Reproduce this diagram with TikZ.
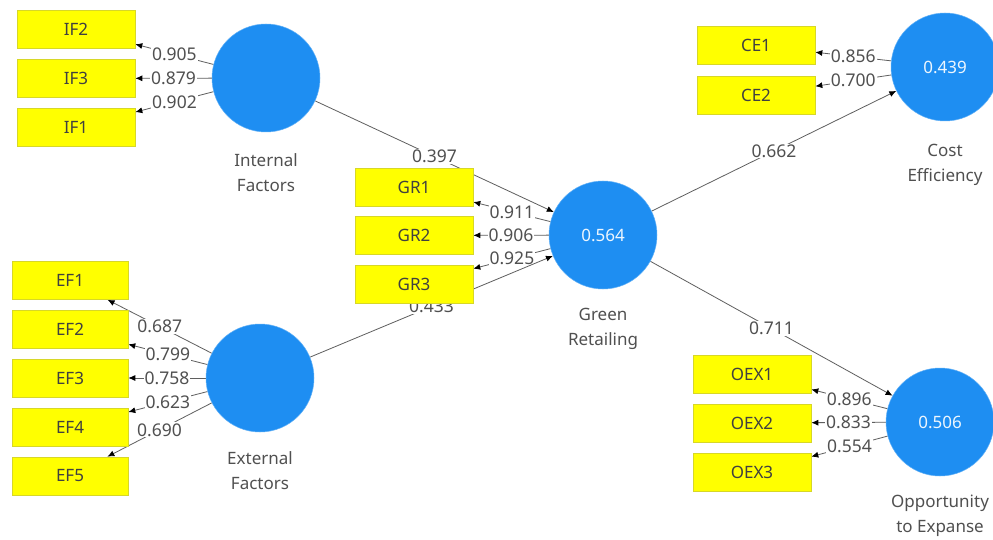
\documentclass[tikz,border=0pt]{standalone}
\usepackage{fontspec}
\setmainfont{Noto Sans}
\usetikzlibrary{arrows.meta}
\pgfdeclarelayer{background}
\pgfsetlayers{background,main}
\definecolor{lvblue}{RGB}{30,142,242}
\definecolor{ind}{RGB}{255,255,0}
\definecolor{indline}{RGB}{215,215,40}
\definecolor{edgegray}{RGB}{95,95,95}
\definecolor{txtgray}{RGB}{80,80,80}
\tikzset{
  latent/.style={circle, fill=lvblue, draw=lvblue!70!white, line width=0.5pt, minimum size=108pt, inner sep=0pt,
    text=white!92!lvblue, font=\fontsize{17}{20}\selectfont},
  indbox/.style={rectangle, fill=ind, draw=indline, line width=0.6pt, minimum width=118pt, minimum height=38pt,
    inner sep=0pt, text=black!75, font=\fontsize{17}{20}\selectfont},
  lvname/.style={align=center, text=txtgray, font=\fontsize{17}{25}\selectfont},
  conn/.style={draw=edgegray, line width=0.8pt, -{Latex[length=7pt,width=6pt,color=black]}},
  coef/.style={fill=white, inner sep=1pt, text=txtgray, font=\fontsize{17.5}{20}\selectfont, pos=0.5},
}
\begin{document}
\begin{tikzpicture}[x=1pt,y=-1pt]
\useasboundingbox (0,0) rectangle (993,540);

% latent variables
\node[latent] (IF) at (266,78) {};
\node[latent] (EF) at (260,378) {};
\node[latent] (GR) at (603,235) {0.564};
\node[latent] (CE) at (945,67) {0.439};
\node[latent] (OEX) at (940,422) {0.506};

\node[lvname] (IFn) at (266,172.5) {Internal\\Factors};
\node[lvname] (EFn) at (260,471) {External\\Factors};
\node[lvname] (GRn) at (603,329) {Green\\Retailing};
\node[lvname] (CEn) at (945,164.5) {Cost\\Efficiency};
\node[lvname] (OEXn) at (940,515.5) {Opportunity\\to Expanse};

% indicators
\node[indbox] (IF2) at (76,29) {IF2};
\node[indbox] (IF3) at (76,78.5) {IF3};
\node[indbox] (IF1) at (76,127.5) {IF1};

\node[indbox, minimum width=116pt] (EF1) at (70,280.5) {EF1};
\node[indbox, minimum width=116pt] (EF2) at (70,329.5) {EF2};
\node[indbox, minimum width=116pt] (EF3) at (70,378) {EF3};
\node[indbox, minimum width=116pt] (EF4) at (70,427) {EF4};
\node[indbox, minimum width=116pt] (EF5) at (70,476) {EF5};

\node[indbox] (GR1) at (414,187) {GR1};
\node[indbox] (GR2) at (414,235.5) {GR2};
\node[indbox] (GR3) at (414,284) {GR3};

\node[indbox] (CE1) at (756,45.5) {CE1};
\node[indbox] (CE2) at (756,95) {CE2};

\node[indbox] (OEX1) at (752,374.5) {OEX1};
\node[indbox] (OEX2) at (752,423) {OEX2};
\node[indbox] (OEX3) at (752,472.5) {OEX3};

\begin{pgfonlayer}{background}
\fill[white] (0,0) rectangle (993,540);
% outer loadings
\draw[conn] (IF) -- node[coef] {0.905} (IF2);
\draw[conn] (IF) -- node[coef] {0.879} (IF3);
\draw[conn] (IF) -- node[coef] {0.902} (IF1);

\draw[conn] (EF) -- node[coef] {0.687} (EF1);
\draw[conn] (EF) -- node[coef] {0.799} (EF2);
\draw[conn] (EF) -- node[coef] {0.758} (EF3);
\draw[conn] (EF) -- node[coef] {0.623} (EF4);
\draw[conn] (EF) -- node[coef] {0.690} (EF5);

\draw[conn] (GR) -- node[coef] {0.911} (GR1);
\draw[conn] (GR) -- node[coef] {0.906} (GR2);
\draw[conn] (GR) -- node[coef] {0.925} (GR3);

\draw[conn] (CE) -- node[coef] {0.856} (CE1);
\draw[conn] (CE) -- node[coef] {0.700} (CE2);

\draw[conn] (OEX) -- node[coef] {0.896} (OEX1);
\draw[conn] (OEX) -- node[coef] {0.833} (OEX2);
\draw[conn] (OEX) -- node[coef] {0.554} (OEX3);

% path coefficients
\draw[conn] (IF) -- node[coef] {0.397} (GR);
\draw[conn] (EF) -- node[coef] {0.433} (GR);
\draw[conn] (GR) -- node[coef] {0.662} (CE);
\draw[conn] (GR) -- node[coef] {0.711} (OEX);
\end{pgfonlayer}
\end{tikzpicture}
\end{document}
